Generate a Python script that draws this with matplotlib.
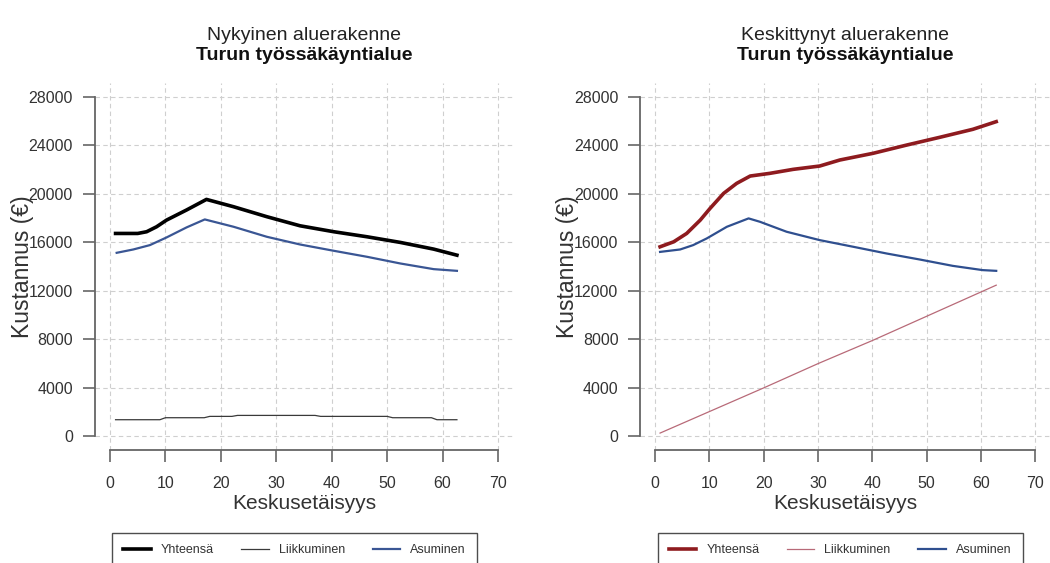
import matplotlib
matplotlib.use("Agg")
import matplotlib.pyplot as plt

plt.rcParams['font.family'] = ['Liberation Sans', 'DejaVu Sans']

# Nykyinen aluerakenne (left)
x_tot_a = [1, 5, 6.6, 8.4, 10.2, 13.8, 17.4, 22.3, 28.3, 34.3, 40.4, 46.4, 52.4, 58.4, 62.6]
y_tot_a = [16720, 16720, 16860, 17270, 17820, 18650, 19525, 18920, 18100, 17350, 16860, 16445, 15980, 15430, 14930]
x_liik_a = [1, 9, 10, 17, 18, 22, 23, 37, 38, 50, 51, 58, 59, 62.6]
y_liik_a = [1375, 1375, 1540, 1540, 1650, 1650, 1730, 1730, 1650, 1650, 1540, 1540, 1375, 1375]
x_asu_a = [1.2, 4.2, 7.2, 10.2, 13.8, 17.1, 22.3, 28.3, 34.3, 40.4, 46.4, 52.4, 58.4, 62.6]
y_asu_a = [15125, 15400, 15760, 16390, 17215, 17875, 17270, 16445, 15810, 15290, 14795, 14245, 13780, 13640]

# Keskittynyt aluerakenne (right)
x_tot_b = [0.9, 3.4, 5.8, 8.3, 10.1, 12.6, 15.0, 17.5, 21.1, 25.4, 30.3, 34.0, 40.1, 46.3, 52.4, 58.5, 62.8]
y_tot_b = [15620, 16030, 16720, 17820, 18780, 20020, 20845, 21450, 21670, 22000, 22275, 22770, 23320, 24000, 24640, 25300, 25930]
x_liik_b = [0.9, 10, 20, 30, 40, 50, 62.8]
y_liik_b = [275, 2050, 4000, 6000, 7900, 9900, 12460]
x_asu_b = [0.9, 4.6, 7.0, 9.5, 13.2, 17.2, 19.3, 24.2, 30.3, 36.5, 42.6, 48.7, 54.8, 60.3, 62.8]
y_asu_b = [15200, 15400, 15760, 16310, 17270, 17960, 17680, 16860, 16170, 15620, 15070, 14575, 14050, 13700, 13640]

xticks = [0, 10, 20, 30, 40, 50, 60, 70]
yticks = [0, 4000, 8000, 12000, 16000, 20000, 24000, 28000]
labels = ['Yhteensä', 'Liikkuminen', 'Asuminen']

fig = plt.figure(figsize=(10.5, 5.63), dpi=100)
ax1 = fig.add_axes([0.09, 0.2007, 0.399, 0.652])
ax2 = fig.add_axes([0.6095, 0.2007, 0.391, 0.652])

def style(ax, title, ylab_x):
    ax.set_xlim(-2.8, 72.8)
    ax.set_ylim(-1120, 29120)
    ax.set_xticks(xticks)
    ax.set_yticks(yticks)
    ax.grid(True, color='#cfcfcf', linestyle=(0, (4, 3)), linewidth=0.8)
    ax.set_axisbelow(True)
    for s in ['top', 'right']:
        ax.spines[s].set_visible(False)
    ax.spines['left'].set_bounds(0, 28000)
    ax.spines['bottom'].set_bounds(0, 70)
    for s in ['left', 'bottom']:
        ax.spines[s].set_color('#666666')
        ax.spines[s].set_linewidth(1.3)
    ax.tick_params(length=8.5, width=1.2, color='#666666', labelsize=11.5,
                   labelcolor='#333333', direction='out')
    ax.tick_params(axis='x', pad=10)
    ax.tick_params(axis='y', pad=7)
    ax.set_xlabel('Keskusetäisyys', fontsize=15, color='#333333')
    ax.xaxis.set_label_coords(0.5, -0.121)
    ax.set_ylabel('Kustannus (€)', fontsize=16.5, color='#333333')
    ax.yaxis.set_label_coords(ylab_x, 0.5)
    ax.text(0.5, 1.128, title, transform=ax.transAxes, ha='center', va='center',
            fontsize=14, color='#222222')
    ax.text(0.5, 1.076, 'Turun työssäkäyntialue', transform=ax.transAxes,
            ha='center', va='center', fontsize=14, fontweight='bold', color='#111111')

l1, = ax1.plot(x_tot_a, y_tot_a, color='black', lw=2.6)
l2, = ax1.plot(x_liik_a, y_liik_a, color='#3a3a3a', lw=0.9)
l3, = ax1.plot(x_asu_a, y_asu_a, color='#3a5694', lw=1.6)
style(ax1, 'Nykyinen aluerakenne', -0.144)

r1, = ax2.plot(x_tot_b, y_tot_b, color='#8e1b1f', lw=2.6)
r2, = ax2.plot(x_liik_b, y_liik_b, color='#b86a78', lw=0.9)
r3, = ax2.plot(x_asu_b, y_asu_b, color='#2f4f8f', lw=1.6)
style(ax2, 'Keskittynyt aluerakenne', -0.148)

for handles, cx in [([l1, l2, l3], 294.5 / 1050), ([r1, r2, r3], 840 / 1050)]:
    leg = fig.legend(handles, labels, loc='upper center', bbox_to_anchor=(cx, 1 - 533 / 563),
                     ncol=3, fontsize=9, frameon=True, fancybox=False, handlelength=2.2,
                     columnspacing=2.2, borderpad=0.9, handletextpad=0.8, borderaxespad=0)
    leg.get_frame().set_edgecolor('#222222')
    leg.get_frame().set_linewidth(1.0)
    for t in leg.get_texts():
        t.set_color('#333333')

fig.savefig('out.png', dpi=100)
